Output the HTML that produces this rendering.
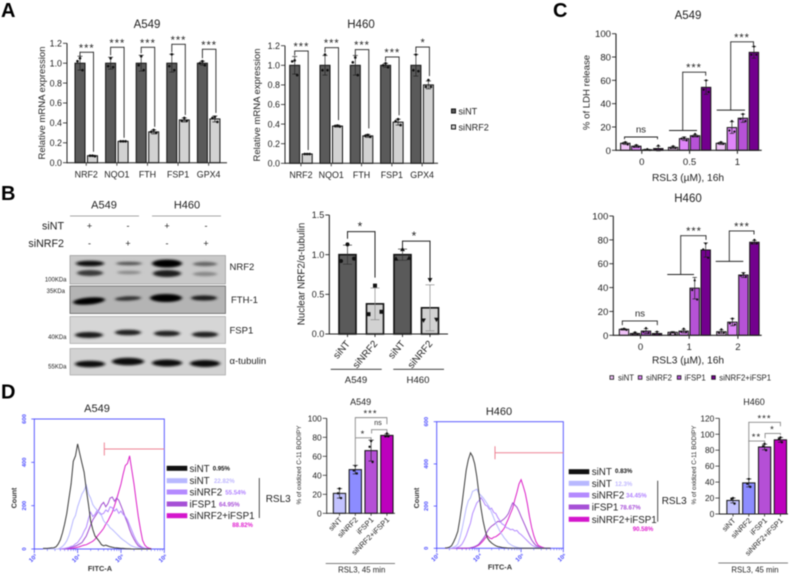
<!DOCTYPE html>
<html lang="en">
<head>
<meta charset="utf-8">
<title>NRF2 FSP1 multi-panel figure</title>
<style>
html,body{margin:0;padding:0;background:#fff;}
#figure{display:block;width:790px;height:575px;font-family:"Liberation Sans",sans-serif;filter:blur(0.4px);}
</style>
</head>
<body>
<svg id="figure" xmlns="http://www.w3.org/2000/svg" width="790" height="575" viewBox="0 0 790 575">
<defs>
<filter id="band-blur" x="-30%" y="-100%" width="160%" height="300%"><feGaussianBlur stdDeviation="1.5 1"/></filter>
</defs>
<rect x="0" y="0" width="790" height="575" fill="#fff"/>

<g font-family="Liberation Sans, sans-serif" fill="#222">
<text x="104" y="208.500" font-size="11" text-anchor="middle">A549</text>
<text x="187" y="208.500" font-size="11" text-anchor="middle">H460</text>
<line x1="70" y1="216" x2="139" y2="216" stroke="#888" stroke-width="0.7"/>
<line x1="152" y1="216" x2="221" y2="216" stroke="#888" stroke-width="0.7"/>
<text x="64" y="229.500" font-size="10.700" text-anchor="end">siNT</text>
<text x="64" y="247" font-size="10.700" text-anchor="end">siNRF2</text>
<g font-size="9" text-anchor="middle">
<text x="89.500" y="229">+</text>
<text x="128" y="229">-</text>
<text x="167" y="229">+</text>
<text x="206" y="229">-</text>
<text x="89.500" y="246.500">-</text>
<text x="128" y="246.500">+</text>
<text x="167" y="246.500">-</text>
<text x="206" y="246.500">+</text>
</g>
<rect x="70" y="255.500" width="155.500" height="28.500" fill="#c9c9c9" stroke="#8a8a8a" stroke-width="0.6"/>
<g filter="url(#band-blur)">
<ellipse cx="90" cy="263.500" rx="14" ry="2.800" fill="#0c0c0c"/>
<ellipse cx="129" cy="263.500" rx="13" ry="1.700" fill="#555"/>
<ellipse cx="167" cy="263.500" rx="15" ry="4" fill="#000"/>
<ellipse cx="205" cy="264" rx="12" ry="2.200" fill="#666"/>
<ellipse cx="90" cy="273" rx="13" ry="3" fill="#3a3a3a"/>
<ellipse cx="129" cy="272.500" rx="12" ry="1.700" fill="#8a8a8a"/>
<ellipse cx="167" cy="273.500" rx="14" ry="3.500" fill="#1c1c1c"/>
<ellipse cx="205" cy="274" rx="12" ry="2.200" fill="#888"/>
</g>
<rect x="70" y="286" width="155.500" height="27.500" fill="#b4b4b4" stroke="#555" stroke-width="0.7"/>
<g filter="url(#band-blur)">
<ellipse cx="89" cy="301" rx="16" ry="3.500" fill="#000" transform="rotate(-5 89 301)"/>
<ellipse cx="128" cy="298.500" rx="13" ry="2.200" fill="#333" transform="rotate(-3 128 298.500)"/>
<ellipse cx="166" cy="298" rx="16" ry="4" fill="#000"/>
<ellipse cx="204" cy="298" rx="13" ry="2.600" fill="#1a1a1a"/>
</g>
<rect x="70" y="316.500" width="155.500" height="27" fill="#d6d6d6" stroke="#999" stroke-width="0.6"/>
<g filter="url(#band-blur)">
<ellipse cx="89" cy="335" rx="14" ry="3" fill="#1c1c1c"/>
<ellipse cx="128" cy="332.500" rx="13" ry="2.800" fill="#222"/>
<ellipse cx="167" cy="333.500" rx="13" ry="2.800" fill="#222"/>
<ellipse cx="205" cy="334.500" rx="13" ry="2.800" fill="#222"/>
</g>
<rect x="70" y="348.500" width="155.500" height="26.500" fill="#d2d2d2" stroke="#999" stroke-width="0.6"/>
<g filter="url(#band-blur)">
<ellipse cx="90" cy="364" rx="15" ry="3.300" fill="#111"/>
<ellipse cx="128" cy="361.500" rx="16" ry="3.800" fill="#0c0c0c"/>
<ellipse cx="167" cy="363" rx="15" ry="3.500" fill="#111"/>
<ellipse cx="205" cy="363.500" rx="15" ry="3.500" fill="#111"/>
</g>
<text x="229.500" y="270" font-size="9.500">NRF2</text>
<text x="231" y="303" font-size="9.500">FTH-1</text>
<text x="229.500" y="333.500" font-size="9.500">FSP1</text>
<text x="229.500" y="364" font-size="9.500">α-tubulin</text>
<text x="66.500" y="281.500" font-size="6" text-anchor="end">100KDa</text>
<text x="65" y="293" font-size="6" text-anchor="end">35KDa</text>
<text x="66.500" y="339" font-size="6" text-anchor="end">40KDa</text>
<text x="66.500" y="368.500" font-size="6" text-anchor="end">55KDa</text>
</g>

<g id="charts"></g>
</svg>

<script>
// ---------- Panel A: mRNA expression ----------
const mrnaGenes = ['NRF2','NQO1','FTH','FSP1','GPX4'];
const mrnaTicks = [0,0.2,0.4,0.6,0.8,1.0,1.2];
const a549MrnaNT = [1,1,1,1,1];
const a549MrnaNRF2 = [0.07,0.215,0.31,0.43,0.44];
const a549MrnaNTErr = [0.07,0.06,0.08,0.09,0.02];
const a549MrnaNRF2Err = [0.005,0.005,0.02,0.02,0.03];
const a549MrnaNTPts = [[1.05,1.02,0.93],[1.05,0.97,0.96],[1.07,0.98,0.93],[1.09,0.97,0.93],[1.02,1.0,0.98]];
const a549MrnaNRF2Pts = [[0.07,0.07,0.065],[0.215,0.215,0.215],[0.33,0.31,0.3],[0.45,0.42,0.42],[0.46,0.45,0.41]];
const h460MrnaNT = [1,1,1,1,1];
const h460MrnaNRF2 = [0.095,0.38,0.28,0.42,0.8];
const h460MrnaNTErr = [0.09,0.1,0.1,0.02,0.11];
const h460MrnaNRF2Err = [0.005,0.01,0.015,0.03,0.04];
const h460MrnaNTPts = [[1.05,1.04,0.9],[1.11,0.95,0.95],[1.08,1.03,0.9],[1.02,1.0,0.98],[1.11,0.95,0.94]];
const h460MrnaNRF2Pts = [[0.095,0.095,0.095],[0.385,0.38,0.375],[0.29,0.28,0.27],[0.45,0.43,0.39],[0.85,0.78,0.78]];

// ---------- Panel B: nuclear NRF2 quantification ----------
const nuclearCategories = ['siNT','siNRF2','siNT','siNRF2'];
const nuclearMeans = [1,0.38,1,0.33];
const nuclearErr = [0.12,0.2,0.07,0.29];
const nuclearPts = [[1.13,0.92,0.95],[0.61,0.25,0.28],[1.07,0.95,0.96],[0.68,0.17,0.18]];
const nuclearTicks = [0,0.5,1.0,1.5];

// ---------- Panel C: LDH release ----------
const ldhTicks = [0,20,40,60,80,100];
const ldhSeriesNames = ['siNT','siNRF2','iFSP1','siNRF2+iFSP1'];
const a549LdhDoses = ['0','0.5','1'];
const a549LdhMeans = [[6,2.5,6],[3.5,10,19.5],[0.5,12.5,27.5],[1.5,54,84]];
const a549LdhErr = [[1,1,1],[1,1.5,5],[0.4,1,3.5],[2,6,5]];
const a549LdhPts = [[[7,6,5],[3.5,2,2],[7,6,5.5]],[[4.5,3,3],[11,10,8.5],[25,17,16]],[[1,0.4,0.2],[14,12,12],[31,27,25]],[[4,1,0.5],[60,52,50],[89,82,82]]];
const h460LdhDoses = ['0','1','2'];
const h460LdhMeans = [[5,2.5,3],[1.5,3.5,11],[3.5,39.5,50.5],[1.5,71.5,78]];
const h460LdhErr = [[0.6,0.6,1.5],[1,1.5,3],[2,9,2],[1.5,6,1.5]];
const h460LdhPts = [[[5.5,5,4.5],[2.5,1,1],[5,2,2]],[[2.5,1,1],[5.5,3,2.5],[14,10,9]],[[6,3,2],[46,38,30],[52,50,49]],[[3,1,1],[77,72,65],[80,77,77]]];

// ---------- Panel D: flow cytometry histograms (counts read per log-fluorescence bin) ----------
const flowLogGrid = [3.2,3.25,3.3,3.35,3.4,3.45,3.5,3.55,3.6,3.65,
  3.7,3.75,3.8,3.85,3.9,3.95,4.0,4.05,4.1,4.15,
  4.2,4.25,4.3,4.35,4.4,4.45,4.5,4.55,4.6,4.65,
  4.7,4.75,4.8,4.85,4.9,4.95,5.0,5.05,5.1,5.15,
  5.2,5.25,5.3,5.35,5.4,5.45,5.5,5.55,5.6,5.65,
  5.7];
const flowCountTicks = [0,200,400,600];
const flowLogTicks = [3,4,5,6];
const a549FlowBlack = [3,3,3,4,5,6,10,22,42,75,
  115,165,235,300,405,430,485,440,395,355,
  275,205,130,90,60,48,35,20,15,18,
  14,10,8,6,5,4,3,3,2,1,
  1,0,0,0,0,0,0,0,0,0,
  0];
const a549FlowSiNT = [0,0,0,0,0,0,0,0,5,12,
  22,38,62,95,135,155,195,225,255,270,
  295,255,235,205,190,180,165,155,130,118,
  112,98,90,80,70,60,50,42,35,27,
  20,14,10,7,5,3,2,1,0,0,
  0];
const a549FlowSiNRF2 = [0,0,0,0,0,0,0,0,0,2,
  3,5,8,12,15,24,30,45,60,82,
  100,140,170,150,160,178,170,160,165,180,
  172,195,190,175,185,165,175,160,150,135,
  110,85,60,40,25,14,8,4,2,1,
  0];
const a549FlowIFSP1 = [0,0,0,0,0,0,0,0,0,0,
  0,2,5,7,10,14,18,24,30,45,
  60,85,110,135,150,165,185,205,215,195,
  210,235,240,220,235,225,200,175,145,120,
  90,65,45,28,15,9,5,2,1,0,
  0];
const a549FlowCombo = [0,0,0,0,0,0,0,0,0,0,
  0,1,2,3,4,6,8,11,15,18,
  20,25,30,36,45,58,70,82,95,115,
  130,150,170,200,230,265,300,345,385,395,
  430,365,300,225,150,90,40,18,8,4,
  2];
const h460FlowBlack = [2,3,5,12,30,52,80,140,210,290,
  370,420,452,435,400,340,260,190,130,85,
  50,35,25,18,12,8,6,4,3,2,
  1,1,0,0,0,0,0,0,0,0,
  0,0,0,0,0,0,0,0,0,0,
  0];
const h460FlowSiNT = [0,0,0,2,5,10,20,50,90,140,
  190,225,240,270,275,280,260,250,240,225,
  210,195,170,145,120,100,80,65,50,38,
  25,18,12,8,5,3,2,1,0,0,
  0,0,0,0,0,0,0,0,0,0,
  0];
const h460FlowSiNRF2 = [0,0,0,0,0,2,5,10,20,38,
  60,90,120,165,190,215,225,240,225,205,
  200,185,190,170,165,145,130,115,110,98,
  95,88,90,82,85,72,65,55,45,35,
  25,16,10,6,4,2,1,0,0,0,
  0];
const h460FlowIFSP1 = [0,0,0,0,0,0,0,0,0,0,
  0,1,3,5,8,13,20,32,45,60,
  80,95,105,112,120,128,125,132,140,150,
  165,190,215,205,195,175,150,128,105,82,
  60,40,25,14,8,4,2,1,0,0,
  0];
const h460FlowCombo = [0,0,0,0,0,0,0,0,0,0,
  0,1,2,4,6,10,15,24,35,48,
  60,50,45,52,55,62,70,82,95,118,
  140,165,190,230,265,305,325,295,260,210,
  150,100,60,32,15,9,5,2,1,0,
  0];

// ---------- Panel D: oxidized C-11 BODIPY ----------
const bodipyCategories = ['siNT','siNRF2','iFSP1','siNRF2+iFSP1'];
const a549BodipyMeans = [21,46,66,82];
const a549BodipyErr = [5,4.5,11,1.5];
const a549BodipyPts = [[26,21,16],[50,45,42],[76,70,54],[84,81,81]];
const a549BodipyTicks = [0,20,40,60,80,100];
const h460BodipyMeans = [17,39,84,93];
const h460BodipyErr = [3,5,3.5,3];
const h460BodipyPts = [[20,19,13],[44,38,34],[88,85,80],[96,94,90]];
const h460BodipyTicks = [0,20,40,60,80,100,120];

const NS = 'http://www.w3.org/2000/svg';
const root = document.getElementById('charts');
const INK = '#222';

function addLine(x1,y1,x2,y2,color,width,name){
  const el = document.createElementNS(NS,'line');
  el.setAttribute('x1',x1); el.setAttribute('y1',y1);
  el.setAttribute('x2',x2); el.setAttribute('y2',y2);
  el.setAttribute('stroke',color); el.setAttribute('stroke-width',width);
  
  
  root.appendChild(el);
  return el;
}
function addText(str,x,y,size,anchor,color,name,rotate,weight){
  const el = document.createElementNS(NS,'text');
  el.setAttribute('x',x); el.setAttribute('y',y);
  el.setAttribute('font-size',size); el.setAttribute('text-anchor',anchor||'start');
  el.setAttribute('fill',color||INK);
  el.setAttribute('font-family','Liberation Sans, sans-serif');
  if(weight) el.setAttribute('font-weight',weight);
  if(rotate) el.setAttribute('transform','rotate('+rotate+' '+x+' '+y+')');
  el.textContent = str;
  
  
  root.appendChild(el);
  return el;
}
function addRect(x,y,w,h,fill,stroke,sw,name){
  const el = document.createElementNS(NS,'rect');
  el.setAttribute('x',x); el.setAttribute('y',y);
  el.setAttribute('width',w); el.setAttribute('height',h);
  el.setAttribute('fill',fill);
  if(stroke){ el.setAttribute('stroke',stroke); el.setAttribute('stroke-width',sw); }
  
  
  root.appendChild(el);
  return el;
}
function addPoint(x,y,r,shape,color,name){
  let el;
  if(shape==='circle'){
    el = document.createElementNS(NS,'circle');
    el.setAttribute('cx',x); el.setAttribute('cy',y); el.setAttribute('r',r);
  } else {
    el = document.createElementNS(NS,'polygon');
    let p;
    if(shape==='square') p=[[x-r,y-r],[x+r,y-r],[x+r,y+r],[x-r,y+r]];
    else if(shape==='up') p=[[x,y-r*1.2],[x+r*1.2,y+r],[x-r*1.2,y+r]];
    else p=[[x,y+r*1.2],[x+r*1.2,y-r],[x-r*1.2,y-r]];
    el.setAttribute('points',p.map(q=>q.join(',')).join(' '));
  }
  el.setAttribute('fill',color);
  
  
  root.appendChild(el);
  return el;
}
function addPolyline(pts,color,width,name){
  const el = document.createElementNS(NS,'polyline');
  el.setAttribute('points',pts.map(q=>q[0].toFixed(1)+','+q[1].toFixed(1)).join(' '));
  el.setAttribute('fill','none'); el.setAttribute('stroke',color);
  el.setAttribute('stroke-width',width);
  
  
  root.appendChild(el);
  return el;
}
function linearY(y0,yTop,max){ return v => y0 - v/max*(y0-yTop); }

function yAxis(prefix,x,y,ticks,decimals,yEnd,size,width){
  addLine(x,y(ticks[0])+0.5,x,y(yEnd),INK,width,prefix+'-y-axis');
  ticks.forEach(t=>{
    addLine(x-4,y(t),x,y(t),INK,width*0.8,prefix+'-y-tick-'+t);
    addText(t.toFixed(decimals),x-5,y(t)+size*0.36,size,'end',INK,prefix+'-y-tick-label-'+t);
  });
}
function drawBar(prefix,cx,w,y,value,err,pts,fill,opts){
  opts=opts||{};
  const sw=opts.sw||1, r=opts.r||1.3, shape=opts.shape||'circle', jitter=opts.jitter||[0,-2.5,2.5];
  const errColor=opts.errColor||'#222', cap=opts.cap||2.5;
  addRect(cx-w/2,y(value),w,y(0)-y(value),fill,'#111',sw,prefix+'-bar');
  addLine(cx,y(value-err),cx,y(value+err),errColor,0.7,prefix+'-error-bar');
  addLine(cx-cap,y(value+err),cx+cap,y(value+err),errColor,0.7,prefix+'-error-cap-top');
  addLine(cx-cap,y(value-err),cx+cap,y(value-err),errColor,0.7,prefix+'-error-cap-bottom');
  pts.forEach((p,i)=>addPoint(cx+jitter[i],y(p),r,shape,opts.ptColor||'#111',prefix+'-point-'+(i+1)));
}
function bracket(prefix,y,xL,xR,topV,leftV,rightV,label,labelX,color,width,labelSize){
  const c=color||INK, w=width||0.9;
  addLine(xL,y(topV),xR,y(topV),c,w,prefix+'-bracket-top');
  addLine(xL,y(topV)-w/2,xL,y(leftV),c,w,prefix+'-bracket-left');
  addLine(xR,y(topV)-w/2,xR,y(rightV),c,w,prefix+'-bracket-right');
  if(label){
    const isNs = label==='ns';
    const t = addText(label,labelX===undefined?(xL+xR)/2:labelX,y(topV)-(isNs?4.5:1),labelSize||11,'middle',INK,prefix+'-significance');
    if(!isNs && label.length>1) t.setAttribute('letter-spacing','1');
  }
}

// ---------- Panel letters ----------
addText('A',1,17,20,'start','#000','panel-letter-a',0,'bold');
addText('B',1,200,20,'start','#000','panel-letter-b',0,'bold');
addText('C',553,17,20,'start','#000','panel-letter-c',0,'bold');
addText('D',1,398.5,20,'start','#000','panel-letter-d',0,'bold');

// ---------- Panel A ----------
function drawMrna(prefix,cfg){
  const y=linearY(cfg.y0,cfg.yTop,1.2);
  const cxN=i=>cfg.x0+i*cfg.step, cxK=i=>cfg.x0+cfg.gap+i*cfg.step;
  mrnaGenes.forEach((g,i)=>{
    drawBar(prefix+'-'+g+'-sint',cxN(i),10,y,cfg.nt[i],cfg.ntErr[i],cfg.ntPts[i],'#5a5a5a');
    drawBar(prefix+'-'+g+'-sinrf2',cxK(i),10,y,cfg.kd[i],cfg.kdErr[i],cfg.kdPts[i],'#d2d2d2');
    addLine((cxN(i)+cxK(i))/2,cfg.y0,(cxN(i)+cxK(i))/2,cfg.y0+3,INK,0.8,prefix+'-x-tick-'+g);
    addText(g,(cxN(i)+cxK(i))/2,cfg.y0+14.8,8.9,'middle',INK,prefix+'-x-label-'+g);
  });
  addLine(cfg.axisX,cfg.y0,cfg.axisEnd,cfg.y0,INK,1,prefix+'-x-axis');
  yAxis(prefix,cfg.axisX,y,mrnaTicks,1,1.2,8.9,1);
  addText(cfg.title,cfg.titleX,28,11.5,'middle',INK,prefix+'-title');
  addText('Relative mRNA expression',cfg.ylabX,cfg.ylabY,9.5,'middle',INK,prefix+'-y-axis-title',-90);
  return {y,cxN,cxK};
}
const aA=drawMrna('mrna-a549',{y0:162.7,yTop:43.3,x0:80,step:30.6,gap:12.5,axisX:67,axisEnd:227,
  nt:a549MrnaNT,kd:a549MrnaNRF2,ntErr:a549MrnaNTErr,kdErr:a549MrnaNRF2Err,ntPts:a549MrnaNTPts,kdPts:a549MrnaNRF2Pts,
  title:'A549',titleX:147,ylabX:45,ylabY:103});
bracket('mrna-a549-nrf2',aA.y,aA.cxN(0),aA.cxK(0)+1,1.11,1.07,0.11,'***');
bracket('mrna-a549-nqo1',aA.y,aA.cxN(1),aA.cxK(1)+1,1.16,1.08,0.25,'***');
bracket('mrna-a549-fth',aA.y,aA.cxN(2),aA.cxK(2)+1,1.16,1.1,0.36,'***');
bracket('mrna-a549-fsp1',aA.y,aA.cxN(3),aA.cxK(3)+1,1.19,1.11,0.48,'***');
bracket('mrna-a549-gpx4',aA.y,aA.cxN(4),aA.cxK(4)+1,1.14,1.05,0.5,'***');

const aH=drawMrna('mrna-h460',{y0:163.3,yTop:45.7,x0:294.7,step:30.3,gap:12.5,axisX:285,axisEnd:438,
  nt:h460MrnaNT,kd:h460MrnaNRF2,ntErr:h460MrnaNTErr,kdErr:h460MrnaNRF2Err,ntPts:h460MrnaNTPts,kdPts:h460MrnaNRF2Pts,
  title:'H460',titleX:361,ylabX:260,ylabY:105});
bracket('mrna-h460-nrf2',aH.y,aH.cxN(0),aH.cxK(0)+1,1.146,1.1,0.135,'***');
bracket('mrna-h460-nqo1',aH.y,aH.cxN(1),aH.cxK(1)+1,1.18,1.13,0.44,'***');
bracket('mrna-h460-fth',aH.y,aH.cxN(2),aH.cxK(2)+1,1.16,1.1,0.356,'***');
bracket('mrna-h460-fsp1',aH.y,aH.cxN(3),aH.cxK(3)+1,1.085,1.04,0.49,'***');
bracket('mrna-h460-gpx4',aH.y,aH.cxN(4),aH.cxK(4)+1,1.186,1.13,0.89,'*');

addRect(451.5,109,4,4,'#5a5a5a','#111',1,'legend-sint-swatch');
addText('siNT',458.5,114.3,9.1,'start',INK,'legend-sint-label');
addRect(451.5,125,4,4,'#d2d2d2','#111',1,'legend-sinrf2-swatch');
addText('siNRF2',458.5,130.3,9.1,'start',INK,'legend-sinrf2-label');

// ---------- Panel B quantification ----------
(function(){
  const y=linearY(334,215,1.5);
  const cx=i=>[347.5,375,402.5,430][i];
  const shapes=['circle','square','up','down'];
  const fills=['#5a5a5a','#d2d2d2','#5a5a5a','#d2d2d2'];
  nuclearCategories.forEach((c,i)=>{
    drawBar('nuclear-'+(i+1)+'-'+c,cx(i),17,y,nuclearMeans[i],nuclearErr[i],nuclearPts[i],fills[i],
      {sw:1.6,r:2,shape:shapes[i],jitter:[0,-6.5,6.5],errColor:i%2?'#888':'#333',cap:4.5});
    addLine(cx(i),334,cx(i),337,INK,0.9,'nuclear-x-tick-'+(i+1));
    addText(c,cx(i)+3,344,9.8,'end',INK,'nuclear-x-label-'+(i+1),-50);
  });
  addLine(329.3,334,448,334,INK,1.1,'nuclear-x-axis');
  yAxis('nuclear',329.3,y,nuclearTicks,1,1.5,9,1.1);
  addText('Nuclear NRF2/α-tubulin',304.5,274,9.8,'middle',INK,'nuclear-y-axis-title',-90);
  bracket('nuclear-a549',y,cx(0),cx(1),1.29,1.2,0.71,'*',360,INK,1,12);
  bracket('nuclear-h460',y,cx(2),cx(3),1.17,1.08,0.7,'*',414,INK,1,12);
  addLine(330.7,369.3,381.7,369.3,'#222',0.8,'nuclear-a549-group-line');
  addLine(393.3,369.3,444,369.3,'#222',0.8,'nuclear-h460-group-line');
  addText('A549',356,383,9.6,'middle',INK,'nuclear-a549-group-label');
  addText('H460',418,383,9.6,'middle',INK,'nuclear-h460-group-label');
})();

// ---------- Panel C ----------
const ldhColors=['#f0c2f8','#de85f8','#b652d6','#73008e'];
function drawLdh(prefix,cfg){
  const y=linearY(cfg.y0,cfg.yTop,100);
  const cx=(g,s)=>cfg.x0+g*cfg.groupStep+s*11;
  cfg.doses.forEach((d,g)=>{
    ldhSeriesNames.forEach((s,si)=>{
      drawBar(prefix+'-'+d+'-'+s,cx(g,si),9.4,y,cfg.means[si][g],cfg.err[si][g],cfg.pts[si][g],ldhColors[si],{sw:1,r:1.1,cap:2.2});
    });
    const mid=cx(g,1.5);
    addLine(mid,cfg.y0,mid,cfg.y0+3.5,INK,1,prefix+'-x-tick-'+d);
    addText(d,mid,cfg.y0+14.5,9.6,'middle',INK,prefix+'-x-label-'+d);
  });
  addLine(cfg.axisX,cfg.y0,761.7,cfg.y0,INK,1.1,prefix+'-x-axis');
  yAxis(prefix,cfg.axisX,y,ldhTicks,0,100,9.6,1.1);
  addText(cfg.title,688,cfg.titleY,11.5,'middle',INK,prefix+'-title');
  addText('RSL3 (µM), 16h',688,cfg.xlabY,10.2,'middle',INK,prefix+'-x-axis-title');
  return {y,cx};
}
const cA=drawLdh('ldh-a549',{y0:150.3,yTop:33.7,x0:625.3,groupStep:47.8,axisX:616,doses:a549LdhDoses,means:a549LdhMeans,err:a549LdhErr,pts:a549LdhPts,title:'A549',titleY:19,xlabY:181});
addText('% of LDH release',589.5,92.5,9.6,'middle',INK,'ldh-a549-y-axis-title',-90);
bracket('ldh-a549-0',cA.y,624.5,657.5,11.4,9.5,9.5,'ns',641,INK,0.9,9.5);
addLine(669,cA.y(17),697,cA.y(17),INK,1,'ldh-a549-0.5-group-line');
bracket('ldh-a549-0.5',cA.y,682.7,705.7,67,17,64,'***',694,INK,0.9);
addLine(716.7,cA.y(34.5),745,cA.y(34.5),INK,1,'ldh-a549-1-group-line');
bracket('ldh-a549-1',cA.y,730.7,753.5,93,34.5,90,'***',742,INK,0.9);

const cH=drawLdh('ldh-h460',{y0:335.3,yTop:216,x0:624,groupStep:48.7,axisX:613.3,doses:h460LdhDoses,means:h460LdhMeans,err:h460LdhErr,pts:h460LdhPts,title:'H460',titleY:202,xlabY:363.5});
bracket('ldh-h460-0',cH.y,622.3,657.3,12,8.5,8.5,'ns',640,INK,0.9,9.5);
addLine(667.3,cH.y(51),694,cH.y(51),INK,1,'ldh-h460-1-group-line');
bracket('ldh-h460-1',cH.y,680.7,706,83.5,51,80,'***',694,INK,0.9);
addLine(715.7,cH.y(62),743.3,cH.y(62),INK,1,'ldh-h460-2-group-line');
bracket('ldh-h460-2',cH.y,729.3,754,87.5,62,84.5,'***',742,INK,0.9);

[[610,618],[638.3,646],[677.3,684.5],[711.7,719.3]].forEach((p,i)=>{
  addRect(p[0],375.7,3.6,3.6,ldhColors[i],'#111',0.8,'ldh-legend-swatch-'+(i+1));
  addText(ldhSeriesNames[i],p[1],380.6,7.8,'start',INK,'ldh-legend-label-'+(i+1));
});

// ---------- Panel D flow ----------
const BLUE='#4a4aff';
const flowColors=['#3c3c3c','#b7b7ff','#b48aff','#a24fd0','#dc20c8'];
const flowNames=['sint-control','sint-rsl3','sinrf2-rsl3','ifsp1-rsl3','sinrf2-ifsp1-rsl3'];
function drawFlow(prefix,cfg){
  const x=l=>cfg.left+(l-3)*(cfg.right-cfg.left)/3;
  const y=c=>cfg.bottom-c/600*(cfg.bottom-cfg.top);
  addRect(cfg.left,cfg.top,cfg.right-cfg.left,cfg.bottom-cfg.top,'#fff',BLUE,0.9,prefix+'-plot-frame');
  cfg.series.slice().reverse().forEach((s,ri)=>{
    const si=cfg.series.length-1-ri;
    addPolyline(flowLogGrid.map((l,i)=>[x(l),y(s[i])]),flowColors[si],1,prefix+'-histogram-'+flowNames[si]);
  });
  flowLogTicks.forEach(t=>{
    addLine(x(t),cfg.bottom,x(t),cfg.bottom+4,BLUE,0.8,prefix+'-x-major-tick-'+t);
    addText('10'+['³','⁴','⁵','⁶'][t-3],x(t),cfg.bottom+10.5,6,'middle',BLUE,prefix+'-x-tick-label-'+t,-45,'bold');
    if(t<6) for(let m=2;m<10;m++){
      const mx=x(t+Math.log10(m));
      addLine(mx,cfg.bottom,mx,cfg.bottom+2,BLUE,0.5,prefix+'-x-minor-tick');
    }
  });
  flowCountTicks.forEach(c=>{
    addLine(cfg.left-3,y(c),cfg.left,y(c),BLUE,0.8,prefix+'-y-tick-'+c);
    addText(String(c),cfg.left-8.5,y(c),5.8,'middle',BLUE,prefix+'-y-tick-label-'+c,-90,'bold');
  });
  addLine(cfg.gateX,cfg.gateY,cfg.right,cfg.gateY,'#ee8294',1,prefix+'-gate-line');
  addLine(cfg.gateX,cfg.gateY-6.5,cfg.gateX,cfg.gateY+6.5,'#ee8294',1,prefix+'-gate-end');
  addText(cfg.title,cfg.titleX,cfg.titleY,11,'middle',INK,prefix+'-title');
  addText('Count',cfg.countX,cfg.countY,7.2,'middle','#333',prefix+'-y-axis-title',-90,'bold');
  addText('FITC-A',cfg.fitcX,cfg.fitcY,7.4,'middle','#333',prefix+'-x-axis-title',0,'bold');
}
drawFlow('flow-a549',{left:34.3,right:164.3,top:419,bottom:549,series:[a549FlowBlack,a549FlowSiNT,a549FlowSiNRF2,a549FlowIFSP1,a549FlowCombo],
  gateX:104.3,gateY:449,title:'A549',titleX:97,titleY:412,countX:16.5,countY:498,fitcX:100,fitcY:571});
drawFlow('flow-h460',{left:436.7,right:563.3,top:421.7,bottom:548.3,series:[h460FlowBlack,h460FlowSiNT,h460FlowSiNRF2,h460FlowIFSP1,h460FlowCombo],
  gateX:495,gateY:452.7,title:'H460',titleX:499,titleY:415,countX:419,countY:498,fitcX:500,fitcY:569.5});

const flowLegendLabels=['siNT','siNT','siNRF2','iFSP1','siNRF2+iFSP1'];
const flowSwatch=['#111','#b8b8ff','#b48aff','#a650d6','#d416cc'];
const flowPctColors=['#111','#c0b8ff','#b080ff','#a850d8','#e020d0'];
function drawFlowLegend(prefix,cfg){
  cfg.rows.forEach((ry,i)=>{
    addRect(cfg.swX,ry-2.5,20.6,5,flowSwatch[i],null,0,prefix+'-legend-swatch-'+(i+1));
    addText(flowLegendLabels[i],cfg.labX,ry+3.5,9.8,'start',INK,prefix+'-legend-label-'+(i+1));
    addText(cfg.pct[i],cfg.pctX[i],cfg.pctY[i],6.1,'start',flowPctColors[i],prefix+'-legend-percent-'+(i+1),0,'bold');
  });
  addLine(cfg.barX,cfg.barTop,cfg.barX,cfg.barBottom,'#222',0.8,prefix+'-rsl3-bracket');
  addText('RSL3',cfg.rslX,cfg.rslY,10,'start',INK,prefix+'-rsl3-label');
}
drawFlowLegend('flow-a549',{swX:166.7,labX:189.5,rows:[468.3,480.7,492,504,515.7],
  pct:['0.95%','22.82%','55.54%','64.95%','88.82%'],pctX:[212.7,214,225.3,219,232.3],pctY:[470.5,483,494.5,506.5,527],
  barX:259.3,barTop:478,barBottom:518,rslX:265.7,rslY:502});
drawFlowLegend('flow-h460',{swX:568.7,labX:591.7,rows:[471.7,483.3,495,507,519.3],
  pct:['0.83%','12.3%','34.45%','78.67%','90.58%'],pctX:[615,615,626,620,632.7],pctY:[473,486,497.5,509.5,531],
  barX:657.7,barTop:480.7,barBottom:521.7,rslX:661.7,rslY:504});

// ---------- Panel D BODIPY bars ----------
const bodipyColors=['#c2c2ff','#8c8cff','#b54fd6','#bd00bd'];
function drawBodipy(prefix,cfg){
  const y=linearY(cfg.y0,cfg.yTop,cfg.max);
  const cx=i=>cfg.x0+i*cfg.step;
  bodipyCategories.forEach((c,i)=>{
    drawBar(prefix+'-'+c,cx(i),12.3,y,cfg.means[i],cfg.err[i],cfg.pts[i],bodipyColors[i],{sw:1,r:1.2,jitter:[0,-1.5,1.5],cap:2.6});
    addLine(cx(i),cfg.y0,cx(i),cfg.y0+2.5,INK,0.8,prefix+'-x-tick-'+(i+1));
    addText(c,cx(i)+3,cfg.y0+7,7.5,'end',INK,prefix+'-x-label-'+(i+1),-45);
  });
  addLine(cfg.axisX,cfg.y0,cfg.axisEnd,cfg.y0,INK,0.9,prefix+'-x-axis');
  yAxis(prefix,cfg.axisX,y,cfg.ticks,0,cfg.max,8.4,0.9);
  addText(cfg.title,cfg.titleX,405,9,'middle',INK,prefix+'-title');
  addText('% of oxidized C-11 BODIPY',cfg.ylabX,465,6.4,'middle',INK,prefix+'-y-axis-title',-90);
  addLine(cfg.axisX-1,cfg.lineY,cfg.axisEnd,cfg.lineY,'#555',0.7,prefix+'-treatment-line');
  addText('RSL3, 45 min',cfg.titleX+1,572.5,7.8,'middle',INK,prefix+'-treatment-label');
  return {y,cx};
}
const dA=drawBodipy('bodipy-a549',{y0:513.3,yTop:418.3,max:100,x0:339.5,step:15.8,axisX:326.7,axisEnd:395,means:a549BodipyMeans,err:a549BodipyErr,pts:a549BodipyPts,ticks:a549BodipyTicks,title:'A549',titleX:360.7,ylabX:301,lineY:563.5});
bracket('bodipy-a549-sinrf2-vs-combo',dA.y,dA.cx(1),dA.cx(3),100.7,80,93.7,'***',370.5,'#888',0.9,9.5);
bracket('bodipy-a549-ifsp1-vs-combo',dA.y,dA.cx(2)+0.5,dA.cx(3),88,84,85,'ns',378,'#888',0.9,7);
bracket('bodipy-a549-sinrf2-vs-ifsp1',dA.y,dA.cx(1),dA.cx(2),79.5,50.5,77,'*',362.5,'#888',0.9,9.5);
const dH=drawBodipy('bodipy-h460',{y0:514,yTop:418.3,max:120,x0:733,step:15.8,axisX:719.3,axisEnd:788,means:h460BodipyMeans,err:h460BodipyErr,pts:h460BodipyPts,ticks:h460BodipyTicks,title:'H460',titleX:754,ylabX:696,lineY:563});
bracket('bodipy-h460-sinrf2-vs-combo',dH.y,dH.cx(1),dH.cx(3),115,91,110,'***',764.5,'#888',0.9,9.5);
bracket('bodipy-h460-sinrf2-vs-ifsp1',dH.y,dH.cx(1),dH.cx(2),91.5,46,89,'**',756.5,'#888',0.9,9.5);
bracket('bodipy-h460-ifsp1-vs-combo',dH.y,dH.cx(2)+0.5,dH.cx(3),101,95,99,'*',772,'#888',0.9,9.5);
</script>
</body>
</html>
